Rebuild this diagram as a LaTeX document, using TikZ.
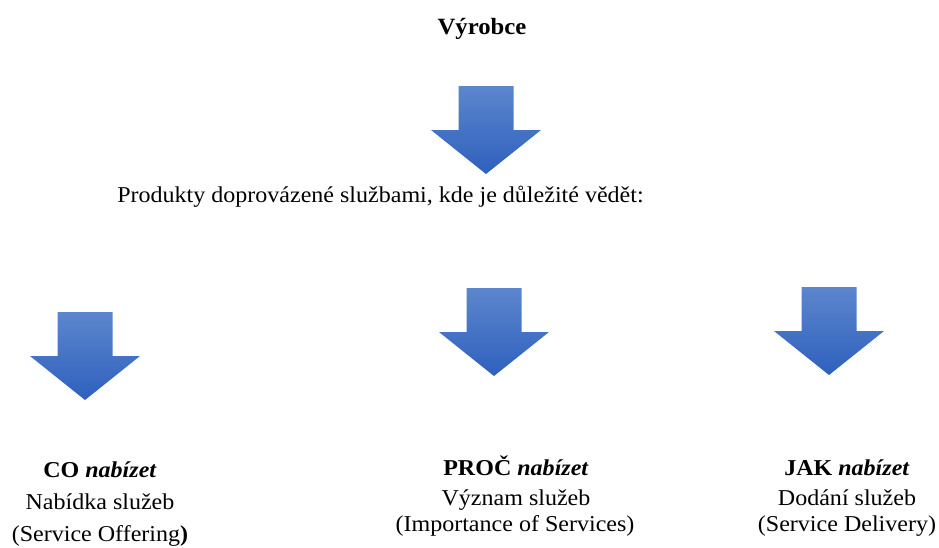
\documentclass[tikz,border=0pt]{standalone}
\usepackage{fontspec}
\setmainfont{Liberation Serif}[FakeStretch=1.06]
\definecolor{arrowtop}{HTML}{5C86CD}
\definecolor{arrowbottom}{HTML}{2E60BD}
\tikzset{
  blockarrow/.pic={
    \shade[top color=arrowtop, bottom color=arrowbottom]
      (-27.5,0) -- (27.5,0) -- (27.5,44) -- (55,44) -- (0,88)
      -- (-55,44) -- (-27.5,44) -- cycle;
  },
  label/.style={font=\fontsize{17}{20}\selectfont, inner sep=0pt, anchor=base},
}
\begin{document}
\begin{tikzpicture}[x=0.75pt, y=-0.75pt]
  \useasboundingbox (0,0) rectangle (939,547);

  % producer and its arrow
  \node[label, font=\fontsize{17.5}{20}\selectfont\bfseries] (vyrobce) at (482,34) {Výrobce};
  \pic (a0) at (486,86) {blockarrow};
  \node[label, anchor=base west] (produkty) at (117,202)
    {Produkty doprovázené službami, kde je důležité vědět:};

  % three branches
  \pic (a1) at (85,312) {blockarrow};
  \pic (a2) at (494,288) {blockarrow};
  \pic (a3) at (829,287) {blockarrow};

  % what to offer
  \node[label] (co1) at (100,477) {\textbf{CO \textit{nabízet}}};
  \node[label] (co2) at (100,509) {Nabídka služeb};
  \node[label] (co3) at (100,541) {(Service Offering\textbf{)}};

  % why to offer
  \node[label] (proc1) at (516,475) {\textbf{PROČ \textit{nabízet}}};
  \node[label] (proc2) at (516,505) {Význam služeb};
  \node[label] (proc3) at (515,531) {(Importance of Services)};

  % how to offer
  \node[label] (jak1) at (847,475) {\textbf{JAK \textit{nabízet}}};
  \node[label] (jak2) at (847,505) {Dodání služeb};
  \node[label] (jak3) at (847,531) {(Service Delivery)};
\end{tikzpicture}
\end{document}
